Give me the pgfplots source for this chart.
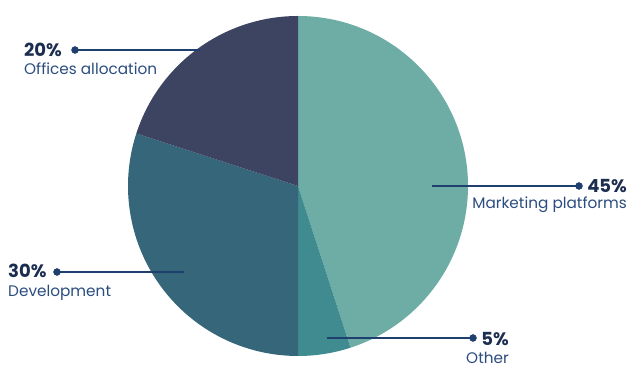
\documentclass[border=0pt]{standalone}
\usepackage{pgfplots}
\pgfplotsset{compat=1.18}
\usepackage{pgfplotstable}
\usepackage{fontspec}
\setmainfont{Poppins}
\definecolor{cMkt}{HTML}{6DADA5}
\definecolor{cOth}{HTML}{3F8B8F}
\definecolor{cDev}{HTML}{35667A}
\definecolor{cOff}{HTML}{3C4461}
\definecolor{numc}{HTML}{1C2E50}
\definecolor{labc}{HTML}{2B4C7E}
\definecolor{linec}{HTML}{1F3F6F}
\pgfplotstableread{
name value
Marketing 45
Other 5
Development 30
Offices 20
}\piedata
\pgfplotstablegetelem{0}{value}\of\piedata \let\va\pgfplotsretval
\pgfplotstablegetelem{1}{value}\of\piedata \let\vb\pgfplotsretval
\pgfplotstablegetelem{2}{value}\of\piedata \let\vc\pgfplotsretval
\pgfplotstablegetelem{3}{value}\of\piedata \let\vd\pgfplotsretval
\pgfmathsetmacro\aA{90}
\pgfmathsetmacro\aB{\aA-3.6*\va}
\pgfmathsetmacro\aC{\aB-3.6*\vb}
\pgfmathsetmacro\aD{\aC-3.6*\vc}
\pgfmathsetmacro\aE{\aD-3.6*\vd}
\begin{document}
\begin{tikzpicture}
\begin{axis}[
  scale only axis, width=640pt, height=385pt,
  xmin=0, xmax=640, ymin=0, ymax=385,
  hide axis, clip=false,
]
\path (axis cs:0,0) rectangle (axis cs:640,385);
\fill[cMkt] (axis cs:298,199) -- ++(\aA:170pt) arc[start angle=\aA, end angle=\aB, radius=170pt] -- cycle;
\fill[cOth] (axis cs:298,199) -- ++(\aB:170pt) arc[start angle=\aB, end angle=\aC, radius=170pt] -- cycle;
\fill[cDev] (axis cs:298,199) -- ++(\aC:170pt) arc[start angle=\aC, end angle=\aD, radius=170pt] -- cycle;
\fill[cOff] (axis cs:298,199) -- ++(\aD:170pt) arc[start angle=\aD, end angle=\aE, radius=170pt] -- cycle;
% leader lines
\addplot[linec, line width=1.5pt] coordinates {(432,199) (579,199)};
\addplot[linec, line width=1.5pt] coordinates {(327,47) (473,47)};
\addplot[linec, line width=1.5pt] coordinates {(57,113) (184,113)};
\addplot[linec, line width=1.5pt] coordinates {(75,335) (200,335)};
\addplot[only marks, mark=*, mark size=3.5pt, color=linec] coordinates {(579,199) (473,47) (57,113) (75,335)};
% labels
\node[anchor=base east, inner sep=0, text=numc, font=\fontsize{18}{20}\selectfont\bfseries] at (axis cs:627,192) {45\%};
\node[anchor=base east, inner sep=0, text=labc, font=\fontsize{15.3}{17}\selectfont] at (axis cs:627,176) {Marketing platforms};
\node[anchor=base east, inner sep=0, text=numc, font=\fontsize{18}{20}\selectfont\bfseries] at (axis cs:509,39) {5\%};
\node[anchor=base east, inner sep=0, text=labc, font=\fontsize{15.3}{17}\selectfont] at (axis cs:509,21) {Other};
\node[anchor=base west, inner sep=0, text=numc, font=\fontsize{18}{20}\selectfont\bfseries] at (axis cs:8,107) {30\%};
\node[anchor=base west, inner sep=0, text=labc, font=\fontsize{15.3}{17}\selectfont] at (axis cs:8,88) {Development};
\node[anchor=base west, inner sep=0, text=numc, font=\fontsize{18}{20}\selectfont\bfseries] at (axis cs:24,328) {20\%};
\node[anchor=base west, inner sep=0, text=labc, font=\fontsize{15.3}{17}\selectfont] at (axis cs:24,310) {Offices allocation};
\end{axis}
\end{tikzpicture}
\end{document}
